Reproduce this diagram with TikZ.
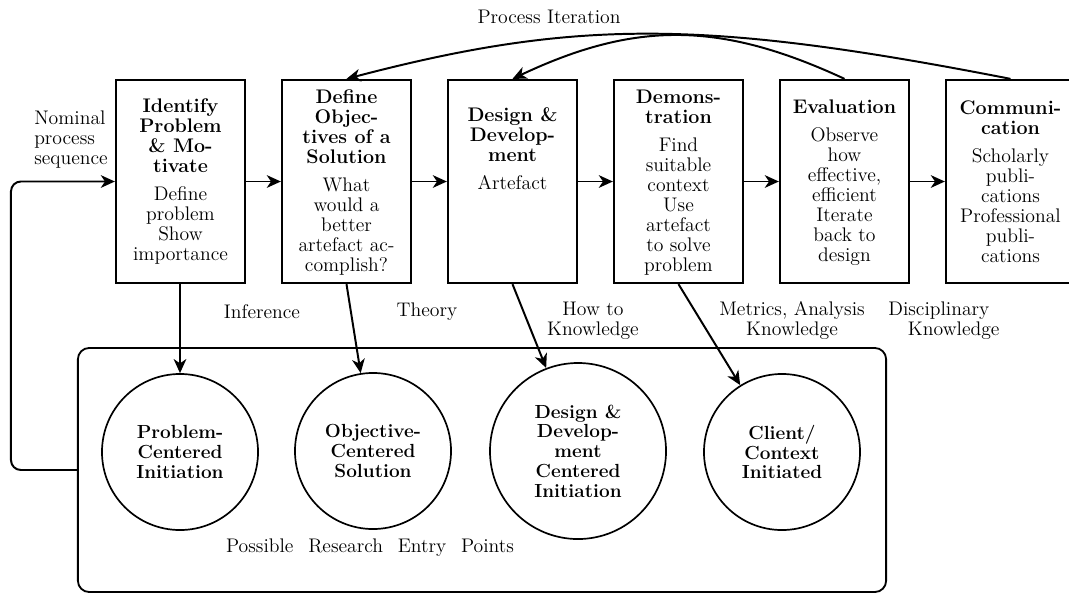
\documentclass[tikz,border=0pt]{standalone}
\usetikzlibrary{arrows.meta}
\begin{document}
\begin{tikzpicture}[x=0.025cm,y=-0.025cm,
  every node/.style={font=\fontsize{14}{14.2}\selectfont},
  arr/.style={-{Stealth[length=10pt,width=9pt,inset=3pt]},line width=1.4pt},
  stage/.style={draw,line width=1.6pt,rectangle,inner sep=0pt,minimum width=3.225cm,minimum height=5.075cm},
  stagetext/.style={anchor=north,align=center,inner sep=0pt},
  entry/.style={draw,circle,line width=1.2pt,inner sep=0pt,align=center,font=\fontsize{13.5}{14}\selectfont\bfseries},
  lbl/.style={align=center,inner sep=0pt},
  ]
\useasboundingbox (0,0) rectangle (1069,594);

% stage boxes
\node[stage] (b1) at (180.5,181.5) {};
\node[stage] (b2) at (346.5,181.5) {};
\node[stage] (b3) at (512.5,181.5) {};
\node[stage] (b4) at (678.5,181.5) {};
\node[stage] (b5) at (844.5,181.5) {};
\node[stage] (b6) at (1010.5,181.5) {};

% stage texts
\node[stagetext] (t1) at (180.5,98.5) {\textbf{Identify}\\\textbf{Problem}\\\textbf{\& Mo-}\\\textbf{tivate}\\[5.7pt]Define\\problem\\Show\\importance};
\node[stagetext] (t2) at (346.5,89.5) {\textbf{Define}\\\textbf{Objec-}\\\textbf{tives of a}\\\textbf{Solution}\\[5.7pt]What\\would a\\better\\artefact ac-\\complish?};
\node[stagetext] (t3) at (512.5,107.5) {\textbf{Design \&}\\\textbf{Develop-}\\\textbf{ment}\\[5.7pt]Artefact};
\node[stagetext] (t4) at (678.5,89.5) {\textbf{Demons-}\\\textbf{tration}\\[5.7pt]Find\\suitable\\context\\Use\\artefact\\to solve\\problem};
\node[stagetext] (t5) at (844.5,99.5) {\textbf{Evaluation}\\[5.7pt]Observe\\how\\effective,\\efficient\\Iterate\\back to\\design};
\node[stagetext] (t6) at (1010.5,100.5) {\textbf{Communi-}\\\textbf{cation}\\[5.7pt]Scholarly\\publi-\\cations\\Professional\\publi-\\cations};

% sequence arrows
\draw[arr] (b1.east) -- (b2.west);
\draw[arr] (b2.east) -- (b3.west);
\draw[arr] (b3.east) -- (b4.west);
\draw[arr] (b4.east) -- (b5.west);
\draw[arr] (b5.east) -- (b6.west);

% iteration arcs
\draw[arr] (b6.north) .. controls (704,19) and (575,19) .. (b2.north);
\draw[arr] (b5.north) .. controls (720,21) and (635,21) .. (b3.north);
\node[lbl] (iter) at (549,17) {Process Iteration};

% entry points container
\node[draw,line width=1.3pt,rectangle,rounded corners=8pt,inner sep=0pt,
      minimum width=20.2cm,minimum height=6.1cm] (ep) at (482,470) {};

% entry circles
\node[entry,minimum size=3.9cm] (c1) at (180,452) {Problem-\\Centered\\Initiation};
\node[entry,minimum size=3.9cm] (c2) at (373,451) {Objective-\\Centered\\Solution};
\node[entry,minimum size=4.4cm] (c3) at (578,451) {Design \&\\Develop-\\ment\\Centered\\Initiation};
\node[entry,minimum size=3.9cm] (c4) at (782,452) {Client/\\Context\\Initiated};

% entry arrows
\draw[arr] (b1.south -| c1.north) -- (c1.north);
\draw[arr] (b2.south) -- (c2.99);
\draw[arr] (b3.south) -- (c3.111);
\draw[arr] (b4.south) -- (c4.122);

% feedback loop
\draw[arr,rounded corners=7pt] (ep.west) -- ++(-66,0) |- (b1.west);

% labels
\node[anchor=west,align=left,inner sep=0pt] (nom) at (34,140) {Nominal\\process\\sequence};
\node[lbl] (inf) at (262,312) {Inference};
\node[lbl] (the) at (427,312) {Theory};
\node[lbl] (how) at (593,320.5) {How to\\Knowledge};
\node[lbl] (met) at (792,320.5) {Metrics, Analysis\\Knowledge};
\node[anchor=west,align=left,inner sep=0pt] (dis) at (888,320.5) {Disciplinary\\\hspace*{14pt}Knowledge};
\node[lbl] (pos) at (370,548) {Possible\hspace{0.75em}Research\hspace{0.75em}Entry\hspace{0.75em}Points};
\end{tikzpicture}
\end{document}
